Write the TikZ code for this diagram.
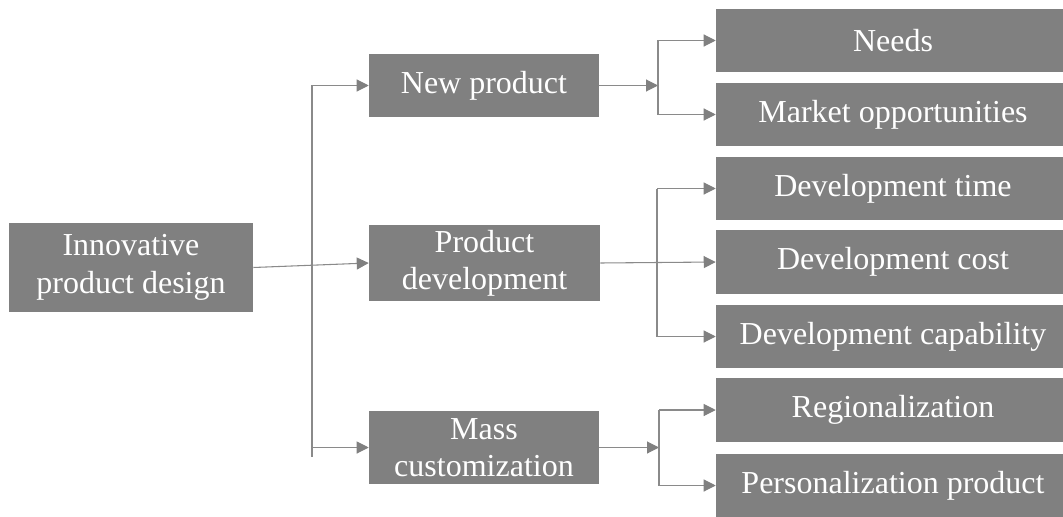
\documentclass[tikz,border=0pt]{standalone}
\usepackage{fontspec}
\setmainfont{Liberation Serif}
\usetikzlibrary{arrows.meta}

\definecolor{boxgray}{RGB}{128,128,128}
\definecolor{linegray}{RGB}{138,138,138}

\tikzset{
  box/.style={fill=boxgray, text=white, inner sep=0pt, align=center,
    font=\fontsize{24}{28}\selectfont},
  conn/.style={draw=linegray, line width=0.8pt,
    -{Triangle[length=9pt,width=9pt,fill=boxgray,color=boxgray]}},
  trunk/.style={draw=linegray, line width=0.8pt}
}

\begin{document}
\begin{tikzpicture}[x=0.75pt,y=0.75pt,yscale=-1,xscale=1]
  \useasboundingbox (0,0) rectangle (1063,517);

  %Shape: Root box
  \node [box, minimum width=244*0.75pt, minimum height=89*0.75pt] (design) at (131,267.5) {Innovative\\product design};

  %Shape: Middle boxes
  \node [box, minimum width=230*0.75pt, minimum height=63*0.75pt] (newprod) at (484,85.5) {New product};
  \node [box, minimum width=231*0.75pt, minimum height=76*0.75pt] (proddev) at (484.5,263) {Product\\development};
  \node [box, minimum width=230*0.75pt, minimum height=73*0.75pt] (masscust) at (484,447.5) {Mass\\customization};

  %Shape: Right boxes
  \node [box, minimum width=354*0.75pt, minimum height=63*0.75pt] (needs) at (893,40.5) {Needs};
  \node [box, minimum width=354*0.75pt, minimum height=63*0.75pt] (market) at (893,114.5) {Market opportunities};
  \node [box, minimum width=354*0.75pt, minimum height=63*0.75pt] (devtime) at (893,188.5) {Development time};
  \node [box, minimum width=354*0.75pt, minimum height=64*0.75pt] (devcost) at (893,262) {Development cost};
  \node [box, minimum width=354*0.75pt, minimum height=63*0.75pt] (devcap) at (893,336.5) {Development capability};
  \node [box, minimum width=354*0.75pt, minimum height=64*0.75pt] (region) at (893,410) {Regionalization};
  \node [box, minimum width=354*0.75pt, minimum height=63*0.75pt] (personal) at (893,485.5) {Personalization product};

  %Branch points
  \coordinate (lefttrunk) at (312,267.5);
  \coordinate (lefttrunkend) at (312,457);
  \coordinate (npsplit) at (658,85.5);
  \coordinate (pdsplit) at (657,263);
  \coordinate (mcsplit) at (659,447.5);

  %Lines: root to middle
  \draw [trunk] (lefttrunk |- newprod.west) -- (lefttrunkend);
  \draw [conn] (lefttrunk |- newprod.west) -- (newprod.west);
  \draw [conn] (design.east) -- (proddev.west);
  \draw [conn] (lefttrunk |- masscust.west) -- (masscust.west);

  %Lines: new product
  \draw [conn] (newprod.east) -- (npsplit);
  \draw [trunk] (npsplit |- needs.west) -- (npsplit |- market.west);
  \draw [conn] (npsplit |- needs.west) -- (needs.west);
  \draw [conn] (npsplit |- market.west) -- (market.west);

  %Lines: product development
  \draw [trunk] (pdsplit |- devtime.west) -- (pdsplit |- devcap.west);
  \draw [conn] (pdsplit |- devtime.west) -- (devtime.west);
  \draw [conn] (proddev.east) -- (devcost.west);
  \draw [conn] (pdsplit |- devcap.west) -- (devcap.west);

  %Lines: mass customization
  \draw [conn] (masscust.east) -- (mcsplit);
  \draw [trunk] (mcsplit |- region.west) -- (mcsplit |- personal.west);
  \draw [conn] (mcsplit |- region.west) -- (region.west);
  \draw [conn] (mcsplit |- personal.west) -- (personal.west);

\end{tikzpicture}
\end{document}
